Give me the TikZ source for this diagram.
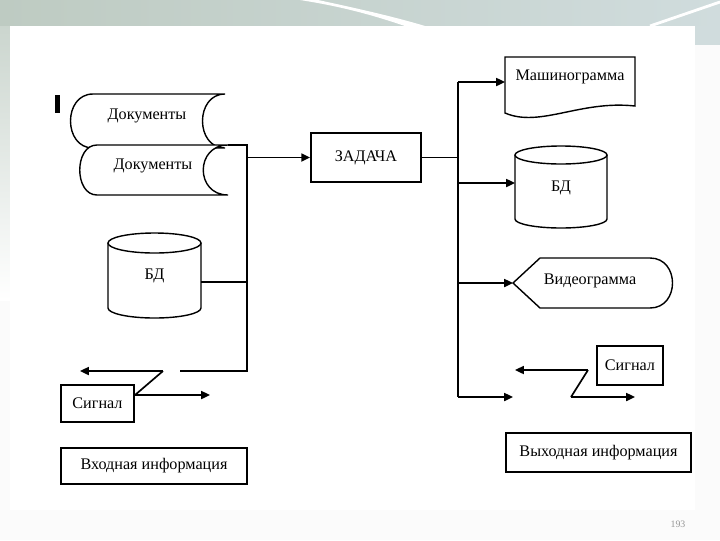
\documentclass[tikz,border=0pt]{standalone}
\usepackage{fontspec}
\setmainfont{Liberation Serif}
\usetikzlibrary{arrows.meta,positioning,calc}
\definecolor{cBandL}{RGB}{190,203,194}
\definecolor{cBandR}{RGB}{208,220,221}
\definecolor{cPage}{RGB}{150,150,150}
\tikzset{
  >={Triangle[length=2.2mm,width=2mm]},
  lbl/.style={font=\fontsize{11.5}{13}\selectfont,inner sep=0pt},
  blk/.style={draw,line width=1.3pt,fill=white,lbl},% plain box
  shp/.style={draw,line width=1pt,fill=white},
  link/.style={-,line width=1.2pt},
  flow/.style={->,line width=1.2pt},
}

\begin{document}
\begin{tikzpicture}[x=0.025cm,y=-0.025cm]
  \useasboundingbox (0,0) rectangle (720,540);
  % slide background
  \fill[white!97!gray] (0,0) rectangle (720,540);
  \shade[left color=cBandL,right color=cBandR] (0,0) rectangle (720,26);
  \shade[top color=cBandL!80!white,bottom color=white] (0,26) rectangle (10,300);
  \fill[cBandR] (695,26) rectangle (720,45);
  \fill[white] (318,0) .. controls (360,9) and (395,17) .. (425,26) -- (405,26)
     .. controls (375,16) and (345,7) .. (300,0) -- cycle;
  \draw[white,line width=2pt] (650,26) -- (720,2);
  \fill[white] (10,26) rectangle (695,510);

  % input side
  \fill (55,95) rectangle (60,113);
  \draw[shp] (93,94) -- (225,94) .. controls (195,94) and (195,148) .. (225,148)
     -- (93,148) .. controls (63,148) and (63,94) .. (93,94) -- cycle;
  \node[lbl] (doc1) at (147,116) {Документы};
  \draw[shp] (97,145) -- (228,145) .. controls (195,145) and (195,195) .. (228,195)
     -- (97,195) .. controls (74,195) and (74,145) .. (97,145) -- cycle;
  \node[lbl] (doc2) at (153,166) {Документы};

  \draw[shp] (108,243) -- (108,308) arc[start angle=180,end angle=0,x radius=46.5,y radius=10]
     -- (201,243);
  \draw[shp] (154.5,243) ellipse[x radius=46.5,y radius=10];
  \node[lbl] (bdL) at (154.5,276) {БД};

  \node[blk,minimum width=1.825cm,minimum height=0.925cm] (sigL) at (97.5,403.5) {Сигнал};
  \node[blk,minimum width=4.65cm,minimum height=0.9cm] (inInfo) at (154,466) {Входная информация};

  \node[blk,minimum width=2.75cm,minimum height=1.225cm] (task) at (366,157.5) {ЗАДАЧА};

  % output side
  \draw[shp] (505,113) -- (505,57) -- (635,57) -- (635,106)
     .. controls (580,100) and (540,128) .. (505,113) -- cycle;
  \node[lbl] (mash) at (570,77) {Машинограмма};

  \draw[shp] (515,155) -- (515,219) arc[start angle=180,end angle=0,x radius=46,y radius=9]
     -- (607,155);
  \draw[shp] (561,155) ellipse[x radius=46,y radius=9];
  \node[lbl] (bdR) at (561,188) {БД};

  \draw[shp] (513,283) -- (540,258) -- (650,258) .. controls (680,258) and (680,308) .. (650,308)
     -- (540,308) -- cycle;
  \node[lbl] (video) at (590,281) {Видеограмма};

  \node[blk,minimum width=1.65cm,minimum height=0.975cm] (sigR) at (630,365.5) {Сигнал};
  \node[blk,minimum width=4.625cm,minimum height=0.975cm] (outInfo) at (598.5,452.5) {Выходная информация};

  % ends of the connectors
  \coordinate (doc2ne) at (228,145);
  \coordinate (bdLout) at (201,282);
  \coordinate (busLt) at (247,145);
  \coordinate (busLb) at (247,371);
  \coordinate (sigLin) at (180,371);
  \coordinate (zzL1) at (163,371);
  \coordinate (zzL2) at (135,395);
  \coordinate (sigLa) at (80,371);
  \coordinate (sigLb) at (210,395);
  \coordinate (busRt) at (458,82);
  \coordinate (busRb) at (458,397);
  \coordinate (mashIn) at (505,82);
  \coordinate (bdRin) at (515,183);
  \coordinate (vidIn) at (513,283);
  \coordinate (sigRin) at (513,397);
  \coordinate (zzR1) at (588,370);
  \coordinate (zzR2) at (571,397);
  \coordinate (sigRa) at (515,370);
  \coordinate (sigRb) at (635,397);

  \draw[link] (doc2ne) -- (busLt) -- (busLb) -- (sigLin);
  \draw[link] (bdLout) -- (bdLout -| busLt);
  \draw[flow] (task.west -| busLt) -- (task.west);
  \draw[flow] (zzL1) -- (sigLa);
  \draw[link] (zzL1) -- (zzL2);
  \draw[flow] (zzL2) -- (sigLb);

  \draw[link] (task.east) -- (task.east -| busRt);
  \draw[link] (busRt) -- (busRb);
  \draw[flow] (busRt) -- (mashIn);
  \draw[flow] (busRt |- bdRin) -- (bdRin);
  \draw[flow] (busRt |- vidIn) -- (vidIn);
  \draw[flow] (busRb) -- (sigRin);
  \draw[flow] (zzR1) -- (sigRa);
  \draw[link] (zzR1) -- (zzR2);
  \draw[flow] (zzR2) -- (sigRb);

  \node[font=\fontsize{7}{8}\selectfont,text=cPage] (pgno) at (678,524) {193};
\end{tikzpicture}
\end{document}
